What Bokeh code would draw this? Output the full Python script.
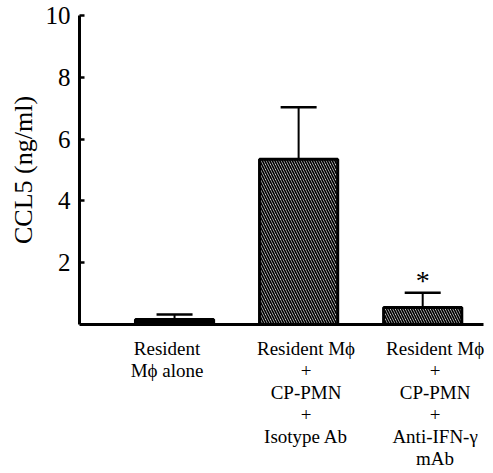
from bokeh.plotting import figure
from bokeh.models import FixedTicker, Whisker, ColumnDataSource, TeeHead, Range1d, LinearAxis
from bokeh.core.properties import value
from bokeh.embed import file_html
from bokeh.resources import INLINE

# data
groups = ["Resident\nMϕ alone",
          "Resident Mϕ\n+\nCP-PMN\n+\nIsotype Ab",
          "Resident Mϕ\n+\nCP-PMN\n+\nAnti-IFN-γ\nmAb"]
bar_x = [1, 2, 3]
label_x = [0.94, 2.06, 3.1]
means = [0.16, 5.35, 0.55]
sems = [0.16, 1.68, 0.48]
fills = ["black", "white", "white"]
hatches = [" ", "\\", "\\"]
star_x = [3]
star_y = [1.42]
y_ticks = [2, 4, 6, 8, 10]

FONT = "Liberation Serif"

p = figure(output_backend="svg", toolbar_location=None,
           frame_width=404, frame_height=309,
           x_range=Range1d(0.234, 3.49), y_range=Range1d(0, 10),
           x_axis_location=None, y_axis_location=None,
           min_border_left=79, min_border_top=15, min_border_right=8, min_border_bottom=2)
p.outline_line_color = None
p.grid.grid_line_color = None

src = ColumnDataSource(dict(x=bar_x, top=means, fill=fills, hatch=hatches,
                            upper=[m + s for m, s in zip(means, sems)]))
p.vbar(x="x", top="top", bottom=0, width=0.63, source=src, fill_color="fill",
       line_color="black", line_width=3, hatch_pattern="hatch",
       hatch_color="black", hatch_scale=5, hatch_weight=1.7)

w = Whisker(base="x", lower="top", upper="upper", source=src, dimension="height",
            line_color="black", line_width=2,
            upper_head=TeeHead(size=36, line_color="black", line_width=2.5),
            lower_head=None)
p.add_layout(w)

p.text(x=star_x, y=star_y, text=["*"], text_font=value(FONT), text_font_size="28px",
       text_align="center", text_baseline="middle", text_color="black")

yax = LinearAxis(
    ticker=FixedTicker(ticks=y_ticks),
    axis_line_width=3, axis_line_color="black",
    major_tick_in=5, major_tick_out=0, major_tick_line_width=2.5,
    minor_tick_line_color=None,
    major_label_text_font=FONT, major_label_text_font_size="25px",
    major_label_text_color="black", major_label_standoff=9,
    axis_label="CCL5 (ng/ml)", axis_label_text_font=FONT,
    axis_label_text_font_style="normal", axis_label_text_font_size="26px",
    axis_label_text_color="black", axis_label_standoff=5,
)
p.add_layout(yax, "left")

xax = LinearAxis(
    ticker=FixedTicker(ticks=label_x),
    major_label_overrides={lx: g for lx, g in zip(label_x, groups)},
    axis_line_width=3, axis_line_color="black",
    major_tick_line_color=None, minor_tick_line_color=None,
    major_label_text_font=FONT, major_label_text_font_size="19px",
    major_label_text_line_height=1.05, major_label_text_color="black",
    major_label_standoff=7,
)
p.add_layout(xax, "below")

open("out.html", "w").write(file_html(p, INLINE))
